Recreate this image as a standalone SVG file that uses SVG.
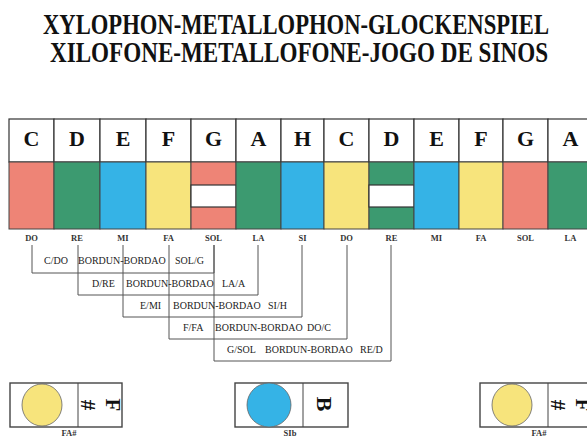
<svg xmlns="http://www.w3.org/2000/svg" width="587" height="437" viewBox="0 0 587 437">
<style>
.title{font-family:"Liberation Serif",serif;font-weight:bold;font-size:30px;fill:#111}
.key{font-family:"Liberation Serif",serif;font-weight:bold;font-size:22px;fill:#111;text-anchor:middle}
.nm{font-family:"Liberation Serif",serif;font-weight:bold;font-size:8.5px;fill:#333;text-anchor:middle}
.lbl{font-family:"Liberation Serif",serif;font-size:10px;fill:#222}
.cell{fill:#fff;stroke:#333;stroke-width:1.2}
.bar{stroke:#444;stroke-width:1}
.pink{fill:#ee8476}
.green{fill:#3c9a70}
.blue{fill:#35b3e6}
.yellow{fill:#f7e47c}
.br{fill:none;stroke:#555;stroke-width:1}
.box{fill:#fff;stroke:#444;stroke-width:1.4}
.big{font-family:"Liberation Serif",serif;font-weight:bold;font-size:21px;fill:#111;text-anchor:middle}
</style>
<rect width="587" height="437" fill="#fff"/>
<g id="title">
<text class="title" x="43" y="34" textLength="506" lengthAdjust="spacingAndGlyphs">XYLOPHON-METALLOPHON-GLOCKENSPIEL</text>
<text class="title" x="50" y="62" textLength="498" lengthAdjust="spacingAndGlyphs">XILOFONE-METALLOFONE-JOGO DE SINOS</text>
</g>
<g id="keys">
<g id="key-c1"><rect class="cell" x="9" y="119" width="45" height="43"/><rect class="pink bar" x="9" y="162" width="45" height="67"/><text class="key" x="31.5" y="146">C</text><text class="nm" x="31.5" y="241">DO</text></g>
<g id="key-d1"><rect class="cell" x="54" y="119" width="46" height="43"/><rect class="green bar" x="54" y="162" width="46" height="67"/><text class="key" x="77" y="146">D</text><text class="nm" x="77" y="241">RE</text></g>
<g id="key-e1"><rect class="cell" x="100" y="119" width="46" height="43"/><rect class="blue bar" x="100" y="162" width="46" height="67"/><text class="key" x="123" y="146">E</text><text class="nm" x="123" y="241">MI</text></g>
<g id="key-f1"><rect class="cell" x="146" y="119" width="45" height="43"/><rect class="yellow bar" x="146" y="162" width="45" height="67"/><text class="key" x="168.5" y="146">F</text><text class="nm" x="168.5" y="241">FA</text></g>
<g id="key-g1"><rect class="cell" x="191" y="119" width="45" height="43"/><rect class="pink bar" x="191" y="162" width="45" height="67"/><rect class="cell" x="191" y="185" width="45" height="22"/><text class="key" x="213.5" y="146">G</text><text class="nm" x="213.5" y="241">SOL</text></g>
<g id="key-a1"><rect class="cell" x="236" y="119" width="45" height="43"/><rect class="green bar" x="236" y="162" width="45" height="67"/><text class="key" x="258.5" y="146">A</text><text class="nm" x="258.5" y="241">LA</text></g>
<g id="key-h"><rect class="cell" x="281" y="119" width="43" height="43"/><rect class="blue bar" x="281" y="162" width="43" height="67"/><text class="key" x="302.5" y="146">H</text><text class="nm" x="302.5" y="241">SI</text></g>
<g id="key-c2"><rect class="cell" x="324" y="119" width="45" height="43"/><rect class="yellow bar" x="324" y="162" width="45" height="67"/><text class="key" x="346.5" y="146">C</text><text class="nm" x="346.5" y="241">DO</text></g>
<g id="key-d2"><rect class="cell" x="369" y="119" width="45" height="43"/><rect class="green bar" x="369" y="162" width="45" height="67"/><rect class="cell" x="369" y="185" width="45" height="22"/><text class="key" x="391.5" y="146">D</text><text class="nm" x="391.5" y="241">RE</text></g>
<g id="key-e2"><rect class="cell" x="414" y="119" width="45" height="43"/><rect class="blue bar" x="414" y="162" width="45" height="67"/><text class="key" x="436.5" y="146">E</text><text class="nm" x="436.5" y="241">MI</text></g>
<g id="key-f2"><rect class="cell" x="459" y="119" width="44" height="43"/><rect class="yellow bar" x="459" y="162" width="44" height="67"/><text class="key" x="481" y="146">F</text><text class="nm" x="481" y="241">FA</text></g>
<g id="key-g2"><rect class="cell" x="503" y="119" width="45" height="43"/><rect class="pink bar" x="503" y="162" width="45" height="67"/><text class="key" x="525.5" y="146">G</text><text class="nm" x="525.5" y="241">SOL</text></g>
<g id="key-a2"><rect class="cell" x="548" y="119" width="45" height="43"/><rect class="green bar" x="548" y="162" width="45" height="67"/><text class="key" x="570.5" y="146">A</text><text class="nm" x="570.5" y="241">LA</text></g>
</g>
<g id="connectors">
<polyline class="br" points="32,245 32,273 214,273 214,245"/>
<polyline class="br" points="78,245 78,295 258,295 258,245"/>
<polyline class="br" points="123,245 123,317 302,317 302,245"/>
<polyline class="br" points="169,245 169,339 347,339 347,245"/>
<polyline class="br" points="214,245 214,361 391,361 391,245"/>
</g>
<g id="labels">
<text class="lbl" x="44" y="264">C/DO</text><text class="lbl" x="78" y="264">BORDUN-BORDAO</text><text class="lbl" x="175" y="264">SOL/G</text>
<text class="lbl" x="92" y="287">D/RE</text><text class="lbl" x="126" y="287">BORDUN-BORDAO</text><text class="lbl" x="222" y="287">LA/A</text>
<text class="lbl" x="140" y="309">E/MI</text><text class="lbl" x="173" y="309">BORDUN-BORDAO</text><text class="lbl" x="268" y="309">SI/H</text>
<text class="lbl" x="183" y="331">F/FA</text><text class="lbl" x="215" y="331">BORDUN-BORDAO</text><text class="lbl" x="307" y="331">DO/C</text>
<text class="lbl" x="227" y="353">G/SOL</text><text class="lbl" x="265" y="353">BORDUN-BORDAO</text><text class="lbl" x="360" y="353">RE/D</text>
</g>
<g id="fa-sharp-1">
<rect class="box" x="10" y="383" width="112" height="44"/><line class="bar" x1="78" y1="383" x2="78" y2="427"/>
<ellipse class="yellow" cx="42" cy="405" rx="20" ry="21" stroke="#666" stroke-width="0.8"/>
<text class="big" transform="translate(88,405) rotate(90)" y="7">#</text>
<text class="big" transform="translate(113,405) rotate(90)" y="7">F</text>
<text class="nm" x="69" y="436">FA#</text>
</g>
<g id="si-flat">
<rect class="box" x="235" y="383" width="113" height="44"/><line class="bar" x1="303" y1="383" x2="303" y2="427"/>
<ellipse class="blue" cx="269" cy="405" rx="22" ry="22" stroke="#666" stroke-width="0.8"/>
<text class="big" transform="translate(324,404) rotate(90)" y="7.5" style="font-size:22px">B</text>
<text class="nm" x="290" y="436">SIb</text>
</g>
<g id="fa-sharp-2">
<rect class="box" x="480" y="383" width="112" height="44"/><line class="bar" x1="548" y1="383" x2="548" y2="427"/>
<ellipse class="yellow" cx="512" cy="405" rx="20" ry="21" stroke="#666" stroke-width="0.8"/>
<text class="big" transform="translate(558,405) rotate(90)" y="7">#</text>
<text class="big" transform="translate(583,405) rotate(90)" y="7">F</text>
<text class="nm" x="539" y="436">FA#</text>
</g>
</svg>
